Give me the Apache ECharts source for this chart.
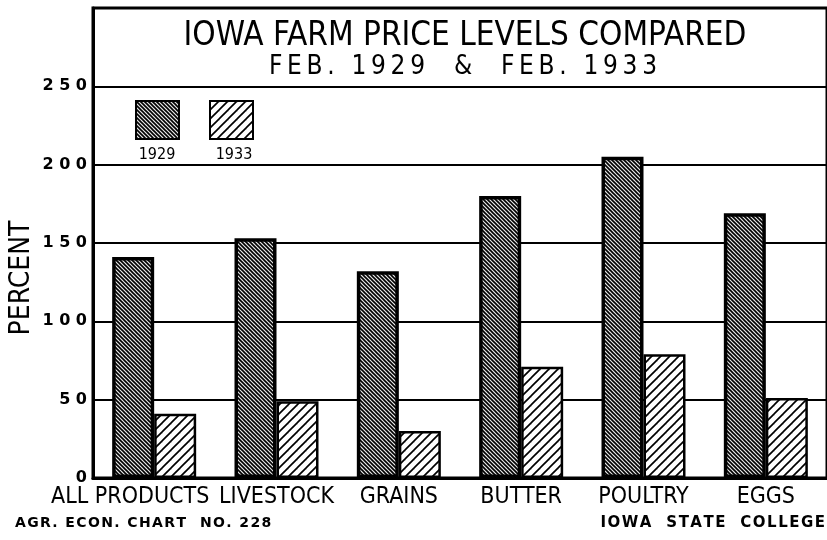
<!DOCTYPE html>
<html>
<head>
<meta charset="utf-8">
<script src="https://cdn.jsdelivr.net/npm/echarts@6/dist/echarts.min.js"></script>
<style>html,body{margin:0;padding:0;background:#fff}#c{width:827px;height:540px}</style>
</head>
<body>
<div id="c"></div>
<script>
const categories = ['ALL PRODUCTS', 'LIVESTOCK', 'GRAINS', 'BUTTER', 'POULTRY', 'EGGS'];
const values1929 = [141, 153, 132, 180, 205, 169];
const values1933 = [41, 49, 30, 71, 79, 51];
const yTickLabels = [0, 50, 100, 150, 200, 250];
const seriesNames = ['1929', '1933'];

function spaced(s, sep) { return s.split('').join(sep); }

function makePattern(size, dir, lw, bg) {
  const c = document.createElement('canvas');
  c.width = size; c.height = size;
  const g = c.getContext('2d');
  g.fillStyle = bg; g.fillRect(0, 0, size, size);
  g.strokeStyle = '#000'; g.lineWidth = lw; g.lineCap = 'square';
  for (const k of [-size, 0, size]) {
    g.beginPath();
    if (dir === 'back') { g.moveTo(k, 0); g.lineTo(k + size, size); }
    else { g.moveTo(k, size); g.lineTo(k + size, 0); }
    g.stroke();
  }
  return { image: c, repeat: 'repeat' };
}
const pat1929 = makePattern(4, 'back', 1.6, '#e8e8e8');
const pat1933 = makePattern(9, 'fwd', 1.7, '#ffffff');

const chart = echarts.init(document.getElementById('c'));
const FONT = 'DejaVu Sans Condensed';
chart.setOption({
  animation: false,
  backgroundColor: '#fff',
  grid: { left: 93, right: -2, top: 8, bottom: 62, show: true, borderColor: '#000', borderWidth: 3 },
  legend: {
    left: 130, top: 95, itemWidth: 43, itemHeight: 38, itemGap: 29,
    icon: 'rect',
    formatter: function () { return ''; },
    selectedMode: false,
    data: seriesNames
  },
  xAxis: {
    type: 'category',
    data: categories.map((c, i) => i === 0 ? { value: c, textStyle: { padding: [0, 48, 0, 0] } } : c),
    axisLine: { lineStyle: { color: '#000', width: 3 } },
    axisTick: { show: false },
    axisLabel: { interval: 0, margin: 8, color: '#000', fontFamily: FONT, fontSize: 23 }
  },
  yAxis: {
    type: 'value', min: 0, max: 300, interval: 50,
    axisLine: { show: true, lineStyle: { color: '#000', width: 3 } },
    axisTick: { show: false },
    splitLine: { lineStyle: { color: '#000', width: 1.8 } },
    axisLabel: {
      margin: 6, color: '#000', fontFamily: 'DejaVu Sans', fontWeight: 'bold', fontSize: 16,
      formatter: function (v) { return yTickLabels.indexOf(v) >= 0 ? String(v).split('').join(' ') : ''; }
    }
  },
  series: [
    { name: seriesNames[0], type: 'bar', data: values1929, barWidth: 42, barGap: '0%',
      itemStyle: { color: pat1929, borderColor: '#000', borderWidth: 3.5 } },
    { name: seriesNames[1], type: 'bar', data: values1933, barWidth: 42, barGap: '0%',
      itemStyle: { color: pat1933, borderColor: '#000', borderWidth: 2.5 } }
  ],
  graphic: [
    { type: 'text', style: { text: 'IOWA FARM PRICE LEVELS COMPARED', x: 465, y: 36, align: 'center', verticalAlign: 'middle', font: '33px "DejaVu Sans Condensed"', fill: '#000' } },
    { type: 'text', style: { text: spaced('FEB. 1929  &  FEB. 1933', '\u2009'), x: 463, y: 67, align: 'center', verticalAlign: 'middle', font: '26px "DejaVu Sans Condensed"', fill: '#000' } },
    { type: 'text', rotation: Math.PI / 2, x: 22, y: 278, style: { text: 'PERCENT', x: 0, y: 0, align: 'center', verticalAlign: 'middle', font: '28px "DejaVu Sans Condensed"', fill: '#000' } },
    { type: 'text', style: { text: '1929', x: 157, y: 155, align: 'center', verticalAlign: 'middle', font: '16px "DejaVu Sans Condensed"', fill: '#000', backgroundColor: '#fff', padding: [0, 2] } },
    { type: 'text', style: { text: '1933', x: 234, y: 155, align: 'center', verticalAlign: 'middle', font: '16px "DejaVu Sans Condensed"', fill: '#000', backgroundColor: '#fff', padding: [0, 2] } },
    { type: 'text', style: { text: spaced('AGR. ECON. CHART  NO. 228', '\u200A'), x: 15, y: 523, align: 'left', verticalAlign: 'middle', font: 'bold 14px "DejaVu Sans"', fill: '#000' } },
    { type: 'text', style: { text: spaced('IOWA  STATE  COLLEGE', '\u200A'), x: 825, y: 523, align: 'right', verticalAlign: 'middle', font: 'bold 15px "DejaVu Sans"', fill: '#000' } }
  ]
});
</script>
</body>
</html>
